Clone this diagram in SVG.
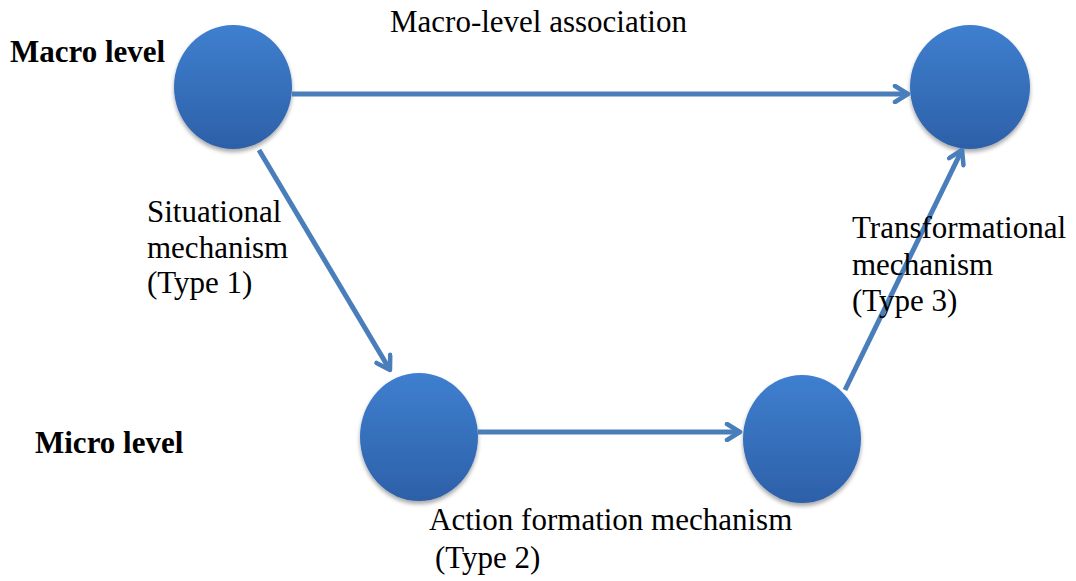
<svg xmlns="http://www.w3.org/2000/svg" width="1076" height="581" viewBox="0 0 1076 581">
<defs>
<linearGradient id="g" x1="0" y1="0" x2="0" y2="1">
<stop offset="0" stop-color="#3f7fcf"/>
<stop offset="1" stop-color="#2d60a8"/>
</linearGradient>
<filter id="sh" x="-20%" y="-20%" width="140%" height="140%">
<feGaussianBlur in="SourceAlpha" stdDeviation="2"/>
<feOffset dx="0" dy="3"/>
<feComponentTransfer><feFuncA type="linear" slope="0.35"/></feComponentTransfer>
<feMerge><feMergeNode/><feMergeNode in="SourceGraphic"/></feMerge>
</filter>
<marker id="ah" viewBox="0 0 20 20" refX="17" refY="10" markerWidth="20" markerHeight="20" markerUnits="userSpaceOnUse" orient="auto">
<path d="M4,2 L17,10 L4,18" fill="none" stroke="#4a7ebb" stroke-width="4.5" stroke-linecap="round" stroke-linejoin="round"/>
</marker>
</defs>
<style>
.n{fill:url(#g);filter:url(#sh)}
.c{stroke:#4a7ebb;stroke-width:5;fill:none;marker-end:url(#ah)}
.t{font-family:'Liberation Serif','DejaVu Serif',serif;font-size:31px;fill:#000}
.b{font-weight:bold}
</style>
<rect width="1076" height="581" fill="#fff"/>
<g id="macro-left"><ellipse class="n" cx="233" cy="87" rx="59" ry="62"/></g>
<g id="macro-right"><ellipse class="n" cx="970" cy="87" rx="60" ry="62"/></g>
<g id="micro-left"><ellipse class="n" cx="419" cy="437" rx="59" ry="64"/></g>
<g id="micro-right"><ellipse class="n" cx="802" cy="439" rx="59" ry="64"/></g>
<g id="connectors">
<line class="c" x1="292" y1="94" x2="908" y2="94"/>
<line class="c" x1="259" y1="150" x2="390" y2="370"/>
<line class="c" x1="478" y1="432" x2="740" y2="432"/>
<line class="c" x1="845" y1="390" x2="962" y2="150"/>
</g>
<g id="labels" font-family="Liberation Serif, serif">
<text class="t b" x="10" y="62">Macro level</text>
<text class="t" x="390" y="32">Macro-level association</text>
<text class="t" x="147" y="222">Situational</text>
<text class="t" x="147" y="258">mechanism</text>
<text class="t" x="147" y="293">(Type 1)</text>
<text class="t" x="852" y="238">Transformational</text>
<text class="t" x="852" y="275">mechanism</text>
<text class="t" x="852" y="311">(Type 3)</text>
<text class="t b" x="35" y="453">Micro level</text>
<text class="t" x="429" y="530">Action formation mechanism</text>
<text class="t" x="435" y="568">(Type 2)</text>
</g>
</svg>
